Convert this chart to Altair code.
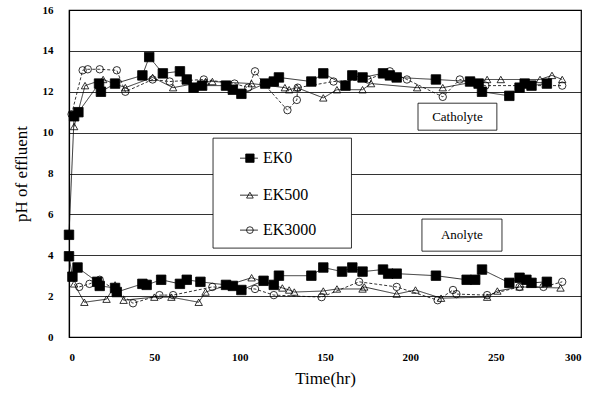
import altair as alt
import pandas as pd

# ---- data (time in hr, pH) ----
ek0_cat_t = [0, 3, 5.5, 17.6, 18.7, 27, 43, 47, 55, 65, 69, 73, 78, 92, 96, 101, 115, 120, 123,
             142, 149, 162, 166, 172, 184, 188, 192, 215, 235, 240, 242, 258, 264, 267, 271, 280]
ek0_cat_ph = [5.0, 10.8, 11.0, 12.4, 12.0, 12.4, 12.8, 13.7, 12.9, 13.0, 12.6, 12.2, 12.3, 12.3, 12.1, 11.9, 12.4, 12.5, 12.7,
              12.5, 12.9, 12.3, 12.8, 12.7, 12.9, 12.8, 12.7, 12.6, 12.5, 12.4, 12.0, 11.8, 12.2, 12.4, 12.3, 12.4]
ek0_an_t = [0, 2, 5, 16.5, 18, 27, 28, 43, 45.5, 54, 65, 69, 77, 92, 96, 101, 114, 120, 123,
            142, 149, 160, 166, 172, 184, 187, 192, 215, 233, 238, 242, 258, 264, 268, 271, 280]
ek0_an_ph = [3.95, 2.95, 3.4, 2.7, 2.5, 2.4, 2.2, 2.6, 2.55, 2.8, 2.6, 2.8, 2.7, 2.55, 2.5, 2.3, 2.75, 2.55, 3.0,
             3.0, 3.4, 3.2, 3.4, 3.2, 3.3, 3.1, 3.1, 3.0, 2.8, 2.8, 3.3, 2.65, 2.9, 2.8, 2.65, 2.7]

ek500_cat_t = [3, 9.4, 20, 33, 49, 61, 80, 84, 107, 126.5, 129, 133.5, 149, 157, 172, 177, 204, 219, 245, 253, 276, 283, 289]
ek500_cat_ph = [10.3, 12.3, 12.6, 12.2, 12.7, 12.2, 12.5, 12.5, 12.4, 12.2, 12.1, 12.2, 11.7, 12.1, 12.1, 12.4, 12.2, 12.2, 12.6, 12.6, 12.6, 12.8, 12.6]
ek500_an_t = [3, 9, 22, 27, 32, 50, 60, 76, 80, 107, 125, 129, 132, 149, 157, 172, 173, 192, 203, 218, 245, 251, 264, 288]
ek500_an_ph = [2.6, 1.7, 1.85, 2.55, 1.8, 1.95, 1.95, 1.7, 2.2, 2.9, 2.4, 2.3, 2.2, 2.25, 2.35, 2.35, 2.45, 2.1, 2.3, 1.9, 1.95, 2.25, 2.45, 2.4]

ek3000_cat_t = [1.5, 8, 11, 18, 28, 33, 49, 59, 79, 97, 105, 109, 114, 128, 133.5, 134, 155, 175, 188, 198, 219, 229, 244, 289]
ek3000_cat_ph = [10.9, 13.05, 13.1, 13.1, 13.05, 12.0, 12.6, 12.5, 12.6, 12.4, 12.2, 13.0, 12.4, 11.1, 11.6, 12.2, 12.5, 12.6, 13.0, 12.6, 11.75, 12.6, 12.3, 12.3]
ek3000_an_t = [6, 12, 18, 27, 37.5, 53, 61, 84, 109, 120, 148, 170, 192, 216, 225, 227, 245, 264, 278, 289]
ek3000_an_ph = [2.45, 2.6, 2.8, 2.3, 1.65, 2.05, 2.05, 2.45, 2.35, 2.05, 1.95, 2.7, 2.45, 1.8, 2.3, 2.1, 2.05, 2.45, 2.45, 2.7]

series_names = ["EK0", "EK500", "EK3000"]
y_ticks = [0, 2, 4, 6, 8, 10, 12, 14, 16]
x_ticks = [0, 50, 100, 150, 200, 250, 300]

rows = []
for name, branch, ts, ps in [
    ("EK0", "cat", ek0_cat_t, ek0_cat_ph), ("EK0", "an", ek0_an_t, ek0_an_ph),
    ("EK500", "cat", ek500_cat_t, ek500_cat_ph), ("EK500", "an", ek500_an_t, ek500_an_ph),
    ("EK3000", "cat", ek3000_cat_t, ek3000_cat_ph), ("EK3000", "an", ek3000_an_t, ek3000_an_ph),
]:
    for t, p in zip(ts, ps):
        rows.append({"t": t, "ph": p, "series": name, "key": name + branch})
df = pd.DataFrame(rows)

SERIF = "Liberation Serif"
xs = alt.Scale(domain=[0, 300], nice=False)
ys = alt.Scale(domain=[0, 16], nice=False)
X = alt.X("t:Q", scale=xs, axis=alt.Axis(values=x_ticks, title="Time(hr)", grid=False))
Y = alt.Y("ph:Q", scale=ys, axis=alt.Axis(values=y_ticks, title="pH of effluent", grid=True))

shape_scale = alt.Scale(domain=series_names, range=["square", "triangle-up", "circle"])
fill_scale = alt.Scale(domain=series_names, range=["black", "transparent", "transparent"])
dash_scale = alt.Scale(domain=series_names, range=[[1, 0], [1, 0], [3, 2]])

base = alt.Chart(df)
lines = base.mark_line(color="black", strokeWidth=0.8).encode(
    x=X, y=Y, detail="key:N",
    strokeDash=alt.StrokeDash("series:N", scale=dash_scale, legend=None),
)
points = base.mark_point(stroke="black", strokeWidth=0.8, opacity=1).encode(
    x=X, y=Y,
    shape=alt.Shape("series:N", scale=shape_scale, legend=None),
    fill=alt.Fill("series:N", scale=fill_scale, legend=None),
    size=alt.condition(alt.datum.series == "EK0", alt.value(90), alt.value(55)),
)

# ---- legend (drawn through the data scales) ----
leg_box = pd.DataFrame({"x1": [84.4], "x2": [165.5], "y1": [9.73], "y2": [4.35]})
box = alt.Chart(leg_box).mark_rect(fill="white", stroke="black", strokeWidth=0.8).encode(
    x=alt.X("x1:Q", scale=xs), x2="x2:Q", y=alt.Y("y1:Q", scale=ys), y2="y2:Q")

leg = pd.DataFrame({"series": series_names, "ly": [8.75, 6.94, 5.23],
                    "lx1": [100.2] * 3, "lx2": [110.7] * 3, "mx": [106] * 3, "tx": [113.6] * 3})
leg_lines = alt.Chart(leg).mark_rule(color="black", strokeWidth=0.8).encode(
    x=alt.X("lx1:Q", scale=xs), x2="lx2:Q", y=alt.Y("ly:Q", scale=ys))
leg_pts = alt.Chart(leg).mark_point(stroke="black", strokeWidth=0.8, opacity=1).encode(
    x=alt.X("mx:Q", scale=xs), y=alt.Y("ly:Q", scale=ys),
    shape=alt.Shape("series:N", scale=shape_scale, legend=None),
    fill=alt.Fill("series:N", scale=fill_scale, legend=None),
    size=alt.condition(alt.datum.series == "EK0", alt.value(70), alt.value(45)),
)
leg_text = alt.Chart(leg).mark_text(align="left", baseline="middle", font=SERIF, fontSize=16, dx=0).encode(
    x=alt.X("tx:Q", scale=xs), y=alt.Y("ly:Q", scale=ys), text="series:N")

# ---- annotation boxes ----
ann = pd.DataFrame({"label": ["Catholyte", "Anolyte"],
                    "x1": [204.5, 206.8], "x2": [250.7, 253.7],
                    "y1": [11.44, 5.77], "y2": [10.12, 4.2],
                    "cx": [227.6, 230.2], "cy": [10.78, 4.98]})
ann_box = alt.Chart(ann).mark_rect(fill="white", stroke="black", strokeWidth=0.8).encode(
    x=alt.X("x1:Q", scale=xs), x2="x2:Q", y=alt.Y("y1:Q", scale=ys), y2="y2:Q")
ann_text = alt.Chart(ann).mark_text(font=SERIF, fontSize=13, baseline="middle").encode(
    x=alt.X("cx:Q", scale=xs), y=alt.Y("cy:Q", scale=ys), text="label:N")

chart = alt.layer(lines, points, box, leg_lines, leg_pts, leg_text, ann_box, ann_text).properties(
    width=512, height=327,
    autosize=alt.AutoSizeParams(type="none"),
    padding={"left": 69, "top": 10, "right": 12, "bottom": 61},
    background="white",
).configure_view(stroke="black", strokeWidth=1.2).configure_axis(
    domainColor="black", domainWidth=1.2, ticks=False,
    gridColor="black", gridWidth=1, gridOpacity=0.8,
    labelFont=SERIF, labelFontWeight="bold", labelFontSize=11, labelColor="black",
    titleFont=SERIF, titleFontWeight="normal", titleFontSize=17, titleColor="black",
).configure_axisY(labelPadding=16, titlePadding=12).configure_axisX(labelPadding=14, titlePadding=8)

chart.save("out.html", embed_options={"renderer": "svg", "actions": False})
